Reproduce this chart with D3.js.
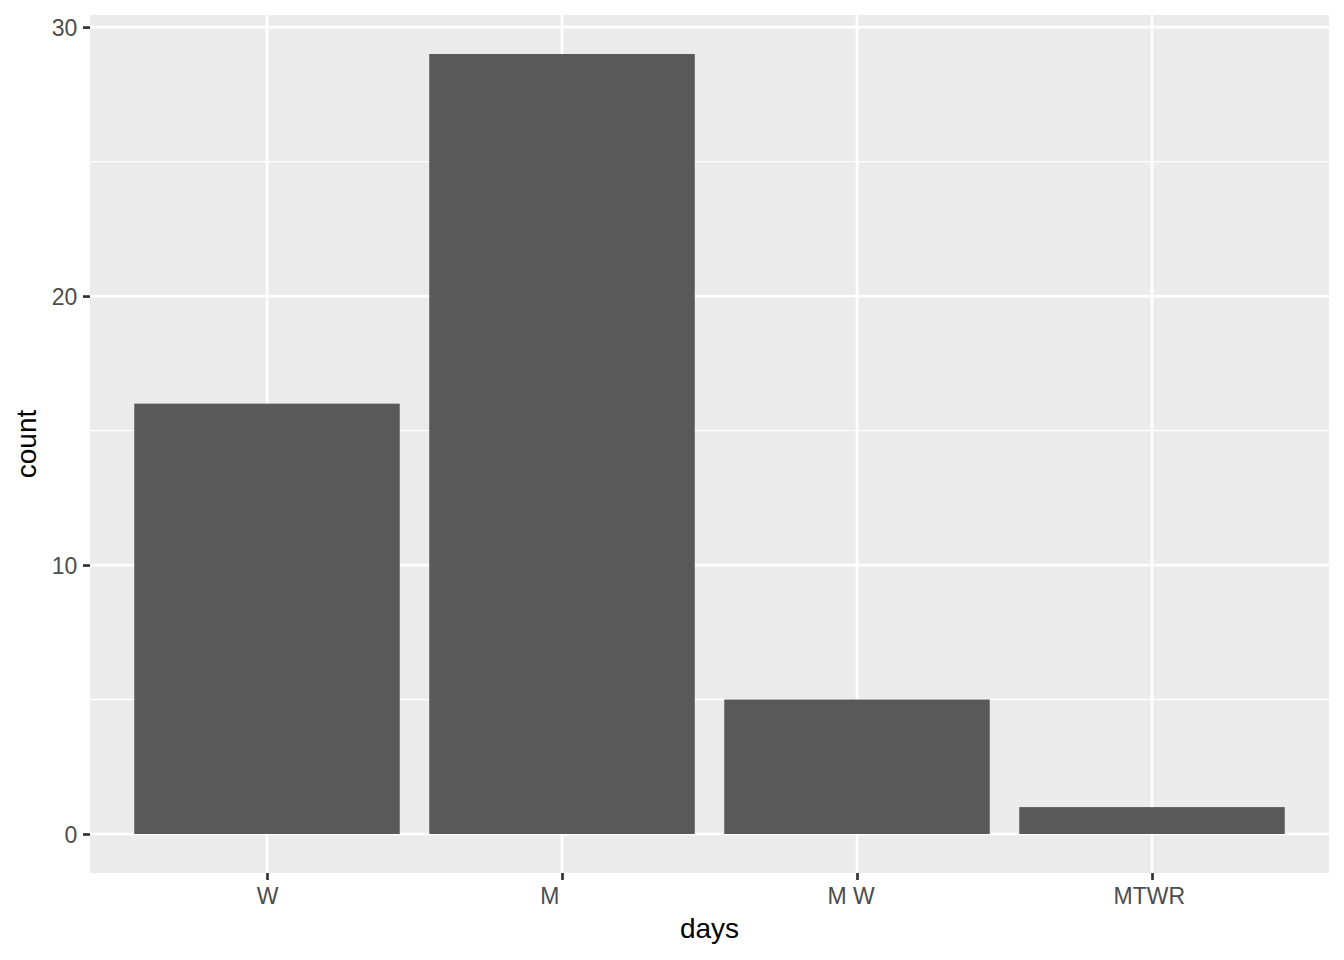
<!DOCTYPE html>
<html>
<head>
<meta charset="utf-8">
<script src="https://cdn.jsdelivr.net/npm/d3@7"></script>
<style>
  html, body { margin: 0; padding: 0; background: #ffffff; }
  svg { display: block; }
  text { font-family: "Liberation Sans", Arial, Helvetica, sans-serif; }
</style>
</head>
<body>
<script>
// Data (fixed-width day strings, as in the source data)
const categories = ["  W  ", "M    ", "M W  ", "MTWR "];
const counts = [16, 29, 5, 1];
const yTicks = [0, 10, 20, 30];
const yMinor = [5, 15, 25];
const xTitle = "days";
const yTitle = "count";

const W = 1344, H = 960;
const panel = { left: 90, right: 1329, top: 15, bottom: 873 };

const svg = d3.select("body").append("svg")
  .attr("width", W).attr("height", H);

svg.append("rect").attr("width", W).attr("height", H).attr("fill", "#ffffff");

const x = d3.scalePoint()
  .domain(categories)
  .range([panel.left, panel.right])
  .padding(0.6);

const maxV = d3.max(counts);
const expand = maxV * 0.05;
const y = d3.scaleLinear()
  .domain([0 - expand, maxV + expand])
  .range([panel.bottom, panel.top]);

const barW = x.step() * 0.9;

// Panel background
svg.append("rect")
  .attr("x", panel.left).attr("y", panel.top)
  .attr("width", panel.right - panel.left)
  .attr("height", panel.bottom - panel.top)
  .attr("fill", "#EBEBEB");

// Minor grid
svg.append("g").selectAll("line").data(yMinor).join("line")
  .attr("x1", panel.left).attr("x2", panel.right)
  .attr("y1", d => y(d)).attr("y2", d => y(d))
  .attr("stroke", "#ffffff").attr("stroke-width", 1.35);

// Major grid
svg.append("g").selectAll("line").data(yTicks).join("line")
  .attr("x1", panel.left).attr("x2", panel.right)
  .attr("y1", d => y(d)).attr("y2", d => y(d))
  .attr("stroke", "#ffffff").attr("stroke-width", 2.7);

svg.append("g").selectAll("line").data(categories).join("line")
  .attr("x1", d => x(d)).attr("x2", d => x(d))
  .attr("y1", panel.top).attr("y2", panel.bottom)
  .attr("stroke", "#ffffff").attr("stroke-width", 2.7);

// Bars
svg.append("g").selectAll("rect").data(categories).join("rect")
  .attr("x", d => x(d) - barW / 2)
  .attr("width", barW)
  .attr("y", (d, i) => y(counts[i]))
  .attr("height", (d, i) => y(0) - y(counts[i]))
  .attr("fill", "#595959");

// Axes
const xAxis = d3.axisBottom(x).tickSize(7).tickPadding(5.6);
const gx = svg.append("g")
  .attr("transform", `translate(0,${panel.bottom})`)
  .call(xAxis);
gx.select(".domain").remove();
gx.selectAll(".tick line").attr("stroke", "#333333").attr("stroke-width", 2.7);
gx.selectAll(".tick text")
  .attr("fill", "#4D4D4D")
  .attr("font-size", "23px")
  .attr("dy", "0.8em")
  .style("white-space", "pre")
  .attr("xml:space", "preserve");

const yAxis = d3.axisLeft(y).tickValues(yTicks).tickSize(7).tickPadding(5.6);
const gy = svg.append("g")
  .attr("transform", `translate(${panel.left},0)`)
  .call(yAxis);
gy.select(".domain").remove();
gy.selectAll(".tick line").attr("stroke", "#333333").attr("stroke-width", 2.7);
gy.selectAll(".tick text")
  .attr("fill", "#4D4D4D")
  .attr("font-size", "23px")
  .attr("dy", "0.36em");

// Titles
svg.append("text")
  .attr("x", (panel.left + panel.right) / 2)
  .attr("y", 938)
  .attr("text-anchor", "middle")
  .attr("font-size", "28px")
  .attr("fill", "#000000")
  .text(xTitle);

svg.append("text")
  .attr("transform", `translate(36,${(panel.top + panel.bottom) / 2}) rotate(-90)`)
  .attr("text-anchor", "middle")
  .attr("font-size", "28px")
  .attr("fill", "#000000")
  .text(yTitle);
</script>
</body>
</html>
